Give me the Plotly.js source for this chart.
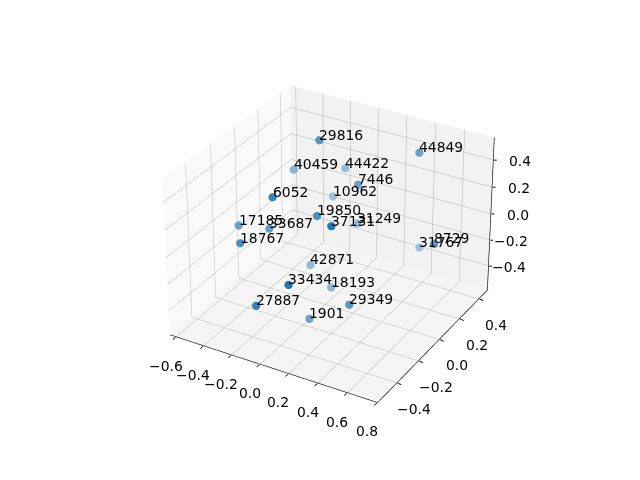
<!DOCTYPE html>
<html><head><script src="https://cdn.plot.ly/plotly-3.0.1.min.js"></script></head>
<body style="margin:0;background:#fff;overflow:hidden"><div id="c" style="position:absolute;left:-773px;top:-592px;width:2210px;height:1658px"></div>
<script>
const labels=[29816,44849,40459,44422,7446,6052,10962,19850,37131,31249,17185,33687,18767,31767,8729,42871,33434,18193,29349,27887,1901];
const xs=[-0.128,0.411,-0.366,-0.135,0.138,-0.053,-0.203,0.107,0.375,0.017,-0.428,-0.214,-0.246,0.353,0.669,-0.171,0.187,0.021,0.362,-0.04,0.088];
const ys=[0.112,0.32,0.178,0.358,0.119,-0.382,0.329,-0.207,-0.425,0.273,-0.229,-0.223,-0.427,0.427,0.114,0.08,-0.55,0.026,-0.25,-0.548,-0.254];
const zs=[0.532,0.456,0.206,0.163,0.278,0.473,-0.053,0.265,0.427,-0.156,0.05,0.087,0.117,-0.35,0.002,-0.396,0.043,-0.468,-0.275,-0.186,-0.471];
const alphas=[.75,.65,.5,.45,.65,.9,.4,.8,1,.45,.65,.7,.8,.4,.7,.45,1,.5,.75,.9,.65];
const xr=[-0.64,0.807],yr=[-0.58,0.49],zr=[-0.59,0.565];
const xt=[-0.6,-0.4,-0.2,0,0.2,0.4,0.6,0.8],yt=[-0.4,-0.2,0,0.2,0.4],zt=[-0.4,-0.2,0,0.2,0.4];
const fmt=v=>v.toFixed(1).replace('-','\u2212');
const font={family:'DejaVu Sans',size:13.9,color:'#000'};
const ax=(t,r,bg)=>({range:r,autorange:false,tickmode:'array',tickvals:t,ticktext:t.map(fmt),showticklabels:false,ticks:'',showbackground:true,backgroundcolor:bg,gridcolor:'#b0b0b0',gridwidth:1,title:{text:''},showspikes:false,zeroline:false,showline:false,showaxeslabels:false});
const ann=[];
const tick=(x,y,z,a,b)=>ann.push({x,y,z,text:'',showarrow:true,arrowhead:0,arrowwidth:1,arrowcolor:'#000',standoff:0,ax:a,ay:b});
const lab=(x,y,z,t,xs,ys,xa)=>ann.push({x,y,z,text:t,showarrow:false,font,xanchor:xa,yanchor:'middle',xshift:xs,yshift:ys,borderpad:0});
xt.forEach(v=>{tick(v,yr[0],zr[0],-4,3);lab(v,yr[0],zr[0],fmt(v),-9.5,-28,'center');});
yt.forEach(v=>{tick(xr[1],v,zr[0],5,2);lab(xr[1],v,zr[0],fmt(v),16.5,-25.5,'center');});
zt.forEach(v=>{tick(xr[1],yr[1],v,4,0);lab(xr[1],yr[1],v,fmt(v),38,-1,'right');});
labels.forEach((t,i)=>ann.push({x:xs[i],y:ys[i],z:zs[i],text:String(t),showarrow:false,font,xanchor:'left',yanchor:'bottom',xshift:-1,yshift:-3.5,borderpad:0}));
const e=0.004;
const spine={type:'scatter3d',mode:'lines',x:[xr[0],xr[1]-e,xr[1]-e,xr[1]-e],y:[yr[0]+e,yr[0]+e,yr[1]-e,yr[1]-e],z:[zr[0]+e,zr[0]+e,zr[0]+e,zr[1]],line:{color:'#000',width:1.2},hoverinfo:'skip'};
const mix=a=>{const c=[31,119,180].map(v=>Math.round(v*a+244*(1-a)));return `rgb(${c})`;};
const pts={type:'scatter3d',mode:'markers',x:xs,y:ys,z:zs,hoverinfo:'skip',marker:{size:4.8,color:alphas.map(mix),line:{width:0}}};
Plotly.newPlot('c',[spine,pts],{width:2210,height:1658,margin:{l:0,r:0,t:0,b:0},paper_bgcolor:'#fff',showlegend:false,scene:{domain:{x:[0,1],y:[0,1]},xaxis:ax(xt,xr,'#f9f9f9'),yaxis:ax(yt,yr,'#f2f2f2'),zaxis:ax(zt,zr,'#f5f5f5'),aspectmode:'manual',aspectratio:{x:1,y:1,z:.75},camera:{eye:{x:3.637,y:-6.3,z:4.2},center:{x:0,y:0,z:0},up:{x:0,y:0,z:1},projection:{type:'perspective'}},annotations:ann}},{displayModeBar:false});
</script></body></html>
